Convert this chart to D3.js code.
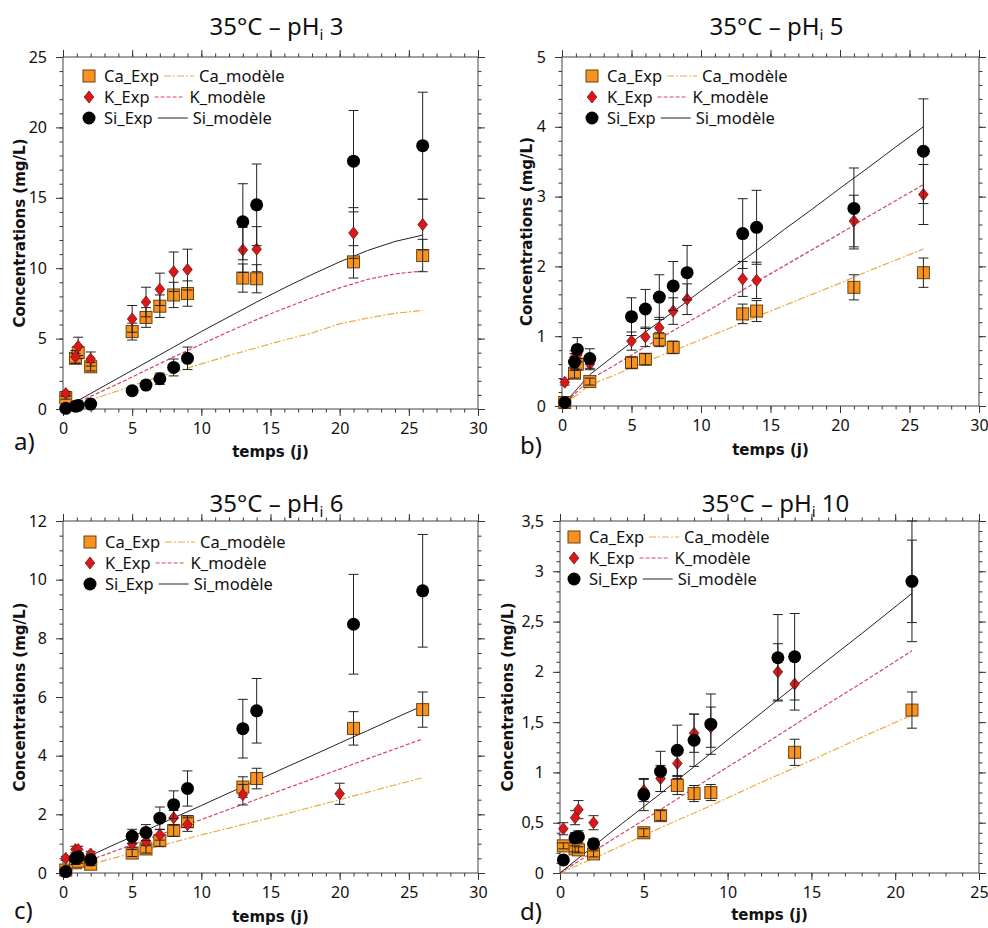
<!DOCTYPE html>
<html><head><meta charset="utf-8">
<script src="https://cdn.jsdelivr.net/npm/d3@7/dist/d3.min.js"></script>
<style>body{margin:0;background:#fff}</style>
</head><body><svg id="c" width="988" height="928"></svg>
<script>
// ---------- DATA ----------
// Panel a : 35°C – pHi 3
const tA   = [0.2, 0.9, 1.1, 2, 5, 6, 7, 8, 9, 13, 14, 21, 26];
const caA  = [0.8, 3.6, 4.0, 3.0, 5.5, 6.5, 7.3, 8.1, 8.2, 9.3, 9.25, 10.45, 10.9];
const caEA = [0.1, 0.35, 0.4, 0.3, 0.6, 0.7, 0.8, 0.9, 0.9, 1.0, 1.0, 1.15, 1.15];
const kA   = [1.1, 3.7, 4.45, 3.55, 6.4, 7.6, 8.5, 9.75, 9.9, 11.3, 11.35, 12.5, 13.1];
const kEA  = [0.15, 0.45, 0.65, 0.5, 0.95, 1.05, 1.15, 1.4, 1.45, 1.6, 1.6, 1.8, 1.8];
const siA  = [0.05, 0.2, 0.25, 0.35, 1.3, 1.7, 2.15, 2.95, 3.6, 13.3, 14.5, 17.6, 18.7];
const siEA = [0.02, 0.05, 0.05, 0.08, 0.25, 0.3, 0.4, 0.6, 0.8, 2.7, 2.9, 3.6, 3.8];
const mtA  = [0, 2, 4, 6, 8, 10, 12, 14, 16, 18, 20, 22, 24, 26];
const mCaA = [0, 0.65, 1.3, 2.0, 2.6, 3.2, 3.8, 4.35, 4.9, 5.4, 6.05, 6.45, 6.8, 7.0];
const mKA  = [0, 0.9, 1.8, 2.75, 3.7, 4.6, 5.5, 6.35, 7.15, 7.9, 8.6, 9.2, 9.6, 9.8];
const mSiA = [0, 1.1, 2.2, 3.3, 4.4, 5.5, 6.55, 7.6, 8.6, 9.55, 10.45, 11.25, 11.9, 12.35];

// Panel b : 35°C – pHi 5
const tB   = [0.2, 0.9, 1.1, 2, 5, 6, 7, 8, 9, 13, 14, 21, 26];
const caB  = [0.05, 0.47, 0.6, 0.35, 0.62, 0.67, 0.95, 0.84, null, 1.32, 1.36, 1.7, 1.91];
const caEB = [0.01, 0.07, 0.08, 0.05, 0.08, 0.08, 0.1, 0.09, null, 0.14, 0.15, 0.18, 0.21];
const kB   = [0.34, 0.7, 0.73, 0.6, 0.93, 0.99, 1.12, 1.36, 1.53, 1.82, 1.8, 2.65, 3.03];
const kEB  = [0.04, 0.09, 0.1, 0.08, 0.13, 0.14, 0.15, 0.19, 0.22, 0.25, 0.26, 0.37, 0.43];
const siB  = [0.05, 0.63, 0.81, 0.68, 1.28, 1.39, 1.56, 1.72, 1.91, 2.47, 2.56, 2.83, 3.65];
const siEB = [0.01, 0.12, 0.17, 0.14, 0.27, 0.28, 0.32, 0.35, 0.39, 0.5, 0.53, 0.58, 0.75];
const mtB  = [0, 2, 4, 6, 8, 10, 12, 14, 16, 18, 20, 22, 24, 26];
const mCaB = [0, 0.3, 0.46, 0.63, 0.79, 0.95, 1.11, 1.28, 1.44, 1.6, 1.76, 1.93, 2.09, 2.25];
const mKB  = [0, 0.38, 0.61, 0.85, 1.08, 1.31, 1.54, 1.78, 2.01, 2.24, 2.47, 2.71, 2.94, 3.17];
const mSiB = [0, 0.45, 0.76, 1.06, 1.35, 1.65, 1.94, 2.23, 2.53, 2.82, 3.12, 3.41, 3.71, 4.0];

// Panel c : 35°C – pHi 6
const tC   = [0.2, 0.9, 1.1, 2, 5, 6, 7, 8, 9, 13, 14, 20, 21, 26];
const caC  = [0.1, 0.35, 0.4, 0.3, 0.68, 0.82, 1.1, 1.45, 1.75, 2.93, 3.22, null, 4.93, 5.57];
const caEC = [0.02, 0.06, 0.07, 0.05, 0.12, 0.14, 0.19, 0.2, 0.2, 0.35, 0.35, null, 0.57, 0.6];
const kC   = [0.5, 0.8, 0.8, 0.65, 1.0, 1.08, 1.3, 1.88, 1.65, 2.67, null, 2.7, null, null];
const kEC  = [0.07, 0.11, 0.11, 0.09, 0.14, 0.15, 0.18, 0.25, 0.23, 0.35, null, 0.36, null, null];
const siC  = [0.05, 0.5, 0.55, 0.45, 1.25, 1.38, 1.87, 2.33, 2.88, 4.92, 5.53, null, 8.48, 9.62];
const siEC = [0.01, 0.08, 0.09, 0.08, 0.24, 0.27, 0.38, 0.47, 0.6, 1.0, 1.1, null, 1.7, 1.92];
const mtC  = [0, 2, 4, 6, 8, 10, 12, 14, 16, 18, 20, 22, 24, 26];
const mCaC = [0, 0.3, 0.55, 0.8, 1.05, 1.3, 1.53, 1.77, 2.0, 2.25, 2.5, 2.75, 3.0, 3.25];
const mKC  = [0, 0.45, 0.79, 1.14, 1.48, 1.82, 2.17, 2.51, 2.86, 3.2, 3.54, 3.89, 4.23, 4.57];
const mSiC = [0.05, 0.6, 1.03, 1.45, 1.88, 2.3, 2.73, 3.15, 3.58, 4.0, 4.43, 4.85, 5.28, 5.7];

// Panel d : 35°C – pHi 10
const tD   = [0.2, 0.9, 1.1, 2, 5, 6, 7, 8, 9, 13, 14, 21];
const caD  = [0.27, 0.24, 0.23, 0.19, 0.4, 0.57, 0.87, 0.79, 0.8, null, 1.2, 1.62];
const caED = [0.03, 0.03, 0.03, 0.03, 0.04, 0.05, 0.09, 0.08, 0.08, null, 0.13, 0.18];
const kD   = [0.44, 0.55, 0.63, 0.5, 0.82, 0.94, 1.09, 1.39, 1.45, 2.0, 1.88, 2.9];
const kED  = [0.06, 0.07, 0.09, 0.07, 0.11, 0.13, 0.15, 0.19, 0.2, 0.28, 0.26, 0.41];
const siD  = [0.13, 0.35, 0.36, 0.29, 0.78, 1.01, 1.22, 1.32, 1.48, 2.14, 2.15, 2.9];
const siED = [0.02, 0.05, 0.06, 0.05, 0.16, 0.2, 0.25, 0.26, 0.3, 0.43, 0.43, 0.6];
const mtD  = [0, 3, 6, 9, 12, 15, 18, 21];
const mCaD = [0, 0.22, 0.45, 0.67, 0.9, 1.12, 1.35, 1.57];
const mKD  = [0, 0.32, 0.63, 0.95, 1.26, 1.58, 1.89, 2.21];
const mSiD = [0, 0.4, 0.79, 1.19, 1.59, 1.99, 2.38, 2.78];

// Titles, axis settings
const titles  = ["3", "5", "6", "10"];
const letters = ["a)", "b)", "c)", "d)"];
const xMax    = [30, 30, 30, 25];
const yMax    = [25, 5, 12, 3.5];
const yStep   = [5, 1, 2, 0.5];
const yMinor  = [1, 0.2, 0.5, 0.1];
const legendNames = [["Ca_Exp","Ca_modèle"],["K_Exp","K_modèle"],["Si_Exp","Si_modèle"]];

// ---------- LAYOUT ----------
const layout = [
  {l:63,  r:478, t:57,  b:409, titleY:35,  letX:14,  letY:450, xlabY:457, ylabX:20,  legX:26, legY:19},
  {l:562, r:979, t:57,  b:406, titleY:35,  letX:520, letY:454, xlabY:455, ylabX:527, legX:30, legY:19},
  {l:63,  r:478, t:521, b:873, titleY:512, letX:14,  letY:919, xlabY:922, ylabX:20,  legX:27, legY:21},
  {l:560, r:979, t:521, b:873, titleY:512, letX:520, letY:920, xlabY:920, ylabX:508, legX:14, legY:16}
];
const panels = [
  {t:tA, ca:caA, caE:caEA, k:kA, kE:kEA, si:siA, siE:siEA, mt:mtA, mca:mCaA, mk:mKA, msi:mSiA},
  {t:tB, ca:caB, caE:caEB, k:kB, kE:kEB, si:siB, siE:siEB, mt:mtB, mca:mCaB, mk:mKB, msi:mSiB},
  {t:tC, ca:caC, caE:caEC, k:kC, kE:kEC, si:siC, siE:siEC, mt:mtC, mca:mCaC, mk:mKC, msi:mSiC},
  {t:tD, ca:caD, caE:caED, k:kD, kE:kED, si:siD, siE:siED, mt:mtD, mca:mCaD, mk:mKD, msi:mSiD}
];

const style = {
  ca:{fill:"#F7931E", stroke:"#6e4010"},
  k:{fill:"#D7191C", stroke:"#7a1010"},
  si:{fill:"#000", stroke:"#000"},
  mca:{stroke:"#F0A940", dash:"7,2,2,2", w:1.2},
  mk:{stroke:"#D9475E", dash:"4,2", w:1.2},
  msi:{stroke:"#222", dash:null, w:1}
};
const tickFont = "'Noto Sans', sans-serif";
const svg = d3.select("#c");
const fmt = d => String(+d.toFixed(2)).replace(".", ",");
const diamond = "M0,-6L4.8,0L0,6L-4.8,0Z";

function marker(sel, kind){
  if (kind === "ca") sel.append("rect").attr("x",-6).attr("y",-6).attr("width",12).attr("height",12)
      .attr("fill",style.ca.fill).attr("stroke",style.ca.stroke).attr("stroke-width",1);
  else if (kind === "k") sel.append("path").attr("d",diamond).attr("fill",style.k.fill)
      .attr("stroke",style.k.stroke).attr("stroke-width",0.8);
  else sel.append("circle").attr("r",6.5).attr("fill","#000");
}

panels.forEach((P, i) => {
  const L = layout[i];
  const g = svg.append("g");
  const x = d3.scaleLinear().domain([0, xMax[i]]).range([L.l, L.r]);
  const y = d3.scaleLinear().domain([0, yMax[i]]).range([L.b, L.t]);
  const xMaj = d3.range(0, xMax[i] + 0.001, 5);
  const xMin = d3.range(0, xMax[i] + 0.001, 1);
  const yMaj = d3.range(0, yMax[i] + 1e-6, yStep[i]).map(v => +v.toFixed(3));
  const yMin = d3.range(0, yMax[i] + 1e-6, yMinor[i]).map(v => +v.toFixed(3));

  // minor ticks, outward on all four sides
  [
    [d3.axisBottom(x), `translate(0,${L.b})`, xMin],
    [d3.axisTop(x), `translate(0,${L.t})`, xMin],
    [d3.axisLeft(y), `translate(${L.l},0)`, yMin],
    [d3.axisRight(y), `translate(${L.r},0)`, yMin]
  ].forEach(([ax, tr, min]) => {
    const gm = g.append("g").attr("transform", tr)
      .call(ax.tickValues(min).tickSize(3.5).tickFormat(""));
    gm.select(".domain").remove();
    gm.selectAll("line").attr("stroke","#333");
  });
  // major ticks
  [
    [d3.axisBottom(x), `translate(0,${L.b})`, xMaj, true],
    [d3.axisTop(x), `translate(0,${L.t})`, xMaj, false],
    [d3.axisLeft(y), `translate(${L.l},0)`, yMaj, true],
    [d3.axisRight(y), `translate(${L.r},0)`, yMaj, false]
  ].forEach(([ax, tr, maj, lab], j) => {
    const ga = g.append("g").attr("transform", tr)
      .call(ax.tickValues(maj).tickSize(7).tickPadding(j === 0 ? 7 : 9).tickFormat(lab ? fmt : ""));
    ga.select(".domain").remove();
    ga.selectAll("line").attr("stroke","#333");
    ga.selectAll("text").attr("font-family", tickFont).attr("font-size", 16).attr("fill","#111");
  });
  g.append("rect").attr("x",L.l).attr("y",L.t).attr("width",L.r-L.l).attr("height",L.b-L.t)
    .attr("fill","none").attr("stroke","#444").attr("stroke-width",1);

  // model lines
  ["mca","mk","msi"].forEach(key => {
    const pts = P.mt.map((t, j) => [t, P[key][j]]);
    g.append("path").datum(pts)
      .attr("d", d3.line().x(d => x(d[0])).y(d => y(d[1])))
      .attr("fill","none").attr("stroke",style[key].stroke).attr("stroke-width",style[key].w)
      .attr("stroke-dasharray",style[key].dash);
  });

  // experimental points with error bars
  const errBars = (vals, errs) => {
    const eg = g.append("g").attr("stroke","#222").attr("stroke-width",1);
    P.t.forEach((t, j) => {
      if (vals[j] == null) return;
      const lo = y(Math.max(0, vals[j] - errs[j])), hi = y(Math.min(yMax[i], vals[j] + errs[j]));
      const cx = x(t);
      eg.append("line").attr("x1",cx).attr("x2",cx).attr("y1",lo).attr("y2",hi);
      eg.append("line").attr("x1",cx-5).attr("x2",cx+5).attr("y1",lo).attr("y2",lo);
      eg.append("line").attr("x1",cx-5).attr("x2",cx+5).attr("y1",hi).attr("y2",hi);
    });
  };
  const points = (vals, kind) => {
    P.t.forEach((t, j) => {
      if (vals[j] == null) return;
      const s = g.append("g").attr("transform", `translate(${x(t)},${y(vals[j])})`);
      marker(s, kind);
    });
  };
  points(P.ca, "ca");
  errBars(P.ca, P.caE);
  errBars(P.k, P.kE);
  points(P.k, "k");
  errBars(P.si, P.siE);
  points(P.si, "si");

  // legend
  const lg = g.append("g").attr("font-family", tickFont).attr("font-size", 16.5).attr("fill","#111");
  const keys = ["ca","k","si"], mkeys = ["mca","mk","msi"];
  keys.forEach((kk, r) => {
    const lx = L.l + L.legX, ly = L.t + L.legY + r * 21;
    marker(lg.append("g").attr("transform", `translate(${lx},${ly})`), kk);
    const tx = lg.append("text").attr("x", lx + 15).attr("y", ly + 6).text(legendNames[r][0]);
    const w = tx.node().getComputedTextLength();
    const x0 = lx + 15 + w + 5;
    lg.append("line").attr("x1",x0).attr("x2",x0+30).attr("y1",ly).attr("y2",ly)
      .attr("stroke",style[mkeys[r]].stroke).attr("stroke-width",style[mkeys[r]].w)
      .attr("stroke-dasharray",style[mkeys[r]].dash);
    lg.append("text").attr("x", x0 + 35).attr("y", ly + 6).text(legendNames[r][1]);
  });

  // title
  const cx = (L.l + L.r) / 2 + 6;
  const tt = svg.append("text").attr("x", cx).attr("y", L.titleY).attr("text-anchor","middle")
    .attr("font-family", tickFont).attr("font-size", 24).attr("fill","#111");
  tt.append("tspan").text("35°C – pH");
  tt.append("tspan").attr("font-size", 15).attr("dy", 5).text("i");
  tt.append("tspan").attr("dy", -5).text(" " + titles[i]);

  // axis labels
  svg.append("text").attr("x", (L.l + L.r) / 2).attr("y", L.xlabY).attr("text-anchor","middle")
    .attr("font-family","'DejaVu Sans', sans-serif").attr("font-weight","bold").attr("font-size",15)
    .attr("fill","#111").text("temps (j)");
  svg.append("text").attr("transform", `translate(${L.ylabX + 5},${(L.t + L.b) / 2}) rotate(-90)`)
    .attr("text-anchor","middle").attr("font-family","'DejaVu Sans', sans-serif")
    .attr("font-weight","bold").attr("font-size",15).attr("fill","#111")
    .text("Concentrations (mg/L)");
  // panel letter
  svg.append("text").attr("x", L.letX).attr("y", L.letY).attr("font-family", tickFont)
    .attr("font-size", 24).attr("fill","#111").text(letters[i]);
});
</script></body></html>
